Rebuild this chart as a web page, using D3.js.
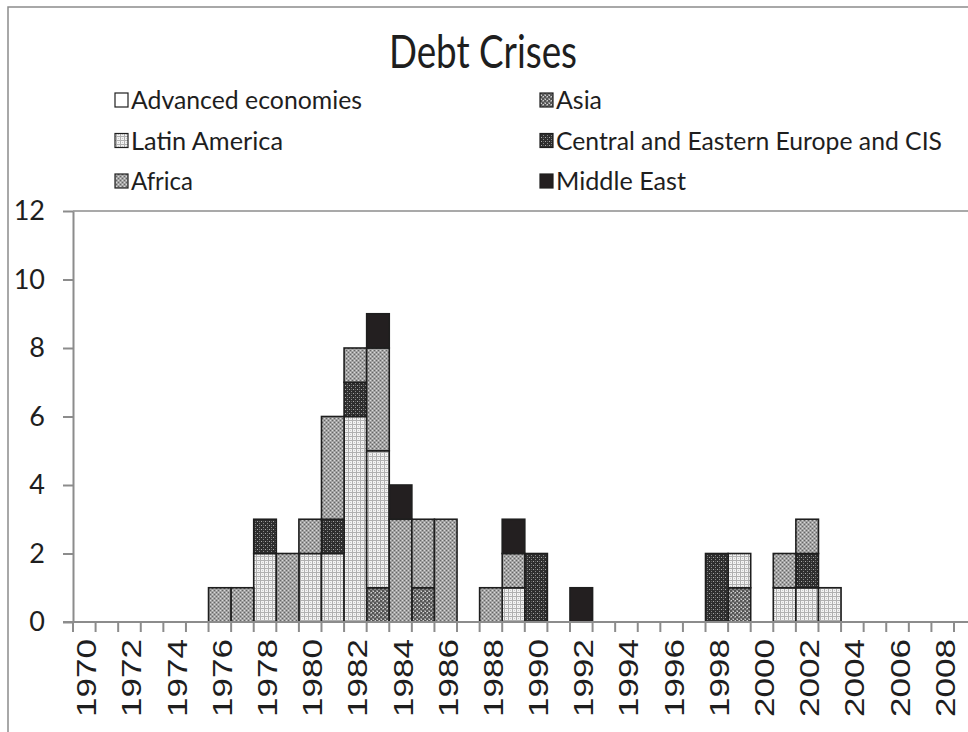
<!DOCTYPE html>
<html><head><meta charset="utf-8">
<script src="https://cdn.jsdelivr.net/npm/d3@7/dist/d3.min.js"></script>
<style>body{margin:0;background:#fff}</style>
</head><body><svg id="c" width="968" height="732"></svg>
<script>
const years = ["1970","1971","1972","1973","1974","1975","1976","1977","1978","1979",
"1980","1981","1982","1983","1984","1985","1986","1987","1988","1989",
"1990","1991","1992","1993","1994","1995","1996","1997","1998","1999",
"2000","2001","2002","2003","2004","2005","2006","2007","2008","2009"];
//                 1970s                1980s                1990s                2000s
const advanced = [0,0,0,0,0,0,0,0,0,0, 0,0,0,0,0,0,0,0,0,0, 0,0,0,0,0,0,0,0,0,0, 0,0,0,0,0,0,0,0,0,0];
const asia     = [0,0,0,0,0,0,0,0,0,0, 0,0,0,1,0,1,0,0,0,0, 0,0,0,0,0,0,0,0,0,1, 0,0,0,0,0,0,0,0,0,0];
const latam    = [0,0,0,0,0,0,0,0,2,0, 2,2,6,4,0,0,0,0,0,1, 0,0,0,0,0,0,0,0,0,1, 0,1,1,1,0,0,0,0,0,0];
const cee      = [0,0,0,0,0,0,0,0,1,0, 0,1,1,0,0,0,0,0,0,0, 2,0,0,0,0,0,0,0,2,0, 0,0,1,0,0,0,0,0,0,0];
const africa   = [0,0,0,0,0,0,1,1,0,2, 1,3,1,3,3,2,3,0,1,1, 0,0,0,0,0,0,0,0,0,0, 0,1,1,0,0,0,0,0,0,0];
const mideast  = [0,0,0,0,0,0,0,0,0,0, 0,0,0,1,1,0,0,0,0,1, 0,0,1,0,0,0,0,0,0,0, 0,0,0,0,0,0,0,0,0,0];
const seriesNames = ["Advanced economies","Asia","Latin America","Central and Eastern Europe and CIS","Africa","Middle East"];
const yTicks = [0,2,4,6,8,10,12];
const title = "Debt Crises";

const seriesData = [advanced, asia, latam, cee, africa, mideast];
const table = years.map((y,i)=>{const o={year:y}; seriesNames.forEach((n,k)=>o[n]=seriesData[k][i]); return o;});

const svg = d3.select("#c");
const defs = svg.append("defs");
function pat(id, bg, cells){
  const p = defs.append("pattern").attr("id",id).attr("patternUnits","userSpaceOnUse").attr("width",4).attr("height",4);
  p.append("rect").attr("width",4).attr("height",4).attr("fill",bg);
  cells.forEach(c=>p.append("rect").attr("x",c[0]).attr("y",c[1]).attr("width",c[2]||1).attr("height",c[3]||1).attr("fill",c[4]));
}
pat("pAsia","#8a8a8a",[[0,0,2,2,"#555555"],[2,2,2,2,"#555555"],[3,0,1,1,"#cfcfcf"],[1,3,1,1,"#cfcfcf"]]);
pat("pLat","#f2f2f2",[[0,0,4,1,"#b0b0b0"],[0,0,1,4,"#b0b0b0"],[2,2,1,1,"#c8c8c8"]]);
pat("pCee","#2e2e2e",[[1,1,1,1,"#a8a8a8"],[3,3,1,1,"#8a8a8a"],[3,1,1,1,"#5e5e5e"]]);
pat("pAfr","#a2a2a2",[[0,0,1,1,"#666666"],[2,2,1,1,"#666666"],[2,0,1,1,"#d8d8d8"],[0,2,1,1,"#d8d8d8"]]);
const fills = {"Advanced economies":"#ffffff","Asia":"url(#pAsia)","Latin America":"url(#pLat)",
 "Central and Eastern Europe and CIS":"url(#pCee)","Africa":"url(#pAfr)","Middle East":"#231f20"};

// outer frame
svg.append("rect").attr("x",8).attr("y",7).attr("width",1000).attr("height",800)
  .attr("fill","none").attr("stroke","#8c8c8c").attr("stroke-width",1.5);

const x0 = 73, band = 22.59;
const x = d3.scaleBand().domain(years).range([x0, x0 + band*years.length]).padding(0);
const y = d3.scaleLinear().domain([0,12]).range([622,211]);

// plot area top border
svg.append("line").attr("x1",x0).attr("x2",968).attr("y1",y(12)).attr("y2",y(12))
  .attr("stroke","#8c8c8c").attr("stroke-width",1.5);

// bars
const stack = d3.stack().keys(seriesNames)(table);
const g = svg.append("g");
stack.forEach(s=>{
  g.selectAll(null).data(s.filter(d=>d[1]-d[0]>0)).enter().append("rect")
   .attr("x",d=>x(d.data.year)).attr("width",x.bandwidth())
   .attr("y",d=>y(d[1])).attr("height",d=>y(d[0])-y(d[1]))
   .attr("fill",fills[s.key]).attr("stroke","#1e1e1e").attr("stroke-width",1.6);
});

// y axis
const ya = svg.append("g").attr("transform",`translate(${x0},0)`)
  .call(d3.axisLeft(y).tickValues(yTicks).tickSize(10).tickPadding(18).tickSizeOuter(0));
ya.selectAll("path,line").attr("stroke","#8c8c8c").attr("stroke-width",2);
ya.selectAll("text").attr("font-family","Lato, 'Open Sans', sans-serif").attr("font-size",27).attr("fill","#1e1e1e");

// x axis
const xa = svg.append("g").attr("transform",`translate(0,${y(0)})`);
xa.append("line").attr("x1",63).attr("x2",968).attr("y1",0).attr("y2",0).attr("stroke","#8c8c8c").attr("stroke-width",2);
xa.selectAll("line.t").data(years.concat(["end"])).enter().append("line").attr("class","t")
  .attr("x1",(d,i)=>x0+i*band).attr("x2",(d,i)=>x0+i*band).attr("y1",0).attr("y2",10)
  .attr("stroke","#8c8c8c").attr("stroke-width",2);
xa.selectAll("text").data(years.filter((d,i)=>i%2===0)).enter().append("text")
  .attr("transform",d=>`translate(${x(d)+x.bandwidth()/2+12},17) rotate(-90)`)
  .attr("text-anchor","end").attr("font-family","'Liberation Sans', Arial, sans-serif")
  .attr("font-size",28).attr("textLength",78).attr("lengthAdjust","spacingAndGlyphs")
  .attr("fill","#1e1e1e").text(d=>d);

// title
svg.append("text").attr("x",483).attr("y",68).attr("text-anchor","middle")
  .attr("font-family","Lato, 'Open Sans', sans-serif").attr("font-size",46)
  .attr("textLength",188).attr("lengthAdjust","spacingAndGlyphs").attr("fill","#1e1e1e").text(title);

// legend (row-major, 2 columns)
const legW = {"Advanced economies":231,"Asia":46,"Latin America":152,"Central and Eastern Europe and CIS":386,"Africa":62,"Middle East":130};
const lg = svg.append("g");
seriesNames.forEach((n,i)=>{
  const col = i%2, row = Math.floor(i/2);
  const lx = col===0 ? 115 : 540, ly = 100 + row*40.5;
  lg.append("rect").attr("x",lx).attr("y",ly-7).attr("width",13).attr("height",14)
    .attr("fill",fills[n]).attr("stroke","#1e1e1e").attr("stroke-width",1.2);
  lg.append("text").attr("x",lx+16).attr("y",ly+9).attr("font-family","Lato, 'Open Sans', sans-serif")
    .attr("font-size",25).attr("textLength",legW[n]).attr("lengthAdjust","spacingAndGlyphs")
    .attr("fill","#1e1e1e").text(n);
});
</script></body></html>
